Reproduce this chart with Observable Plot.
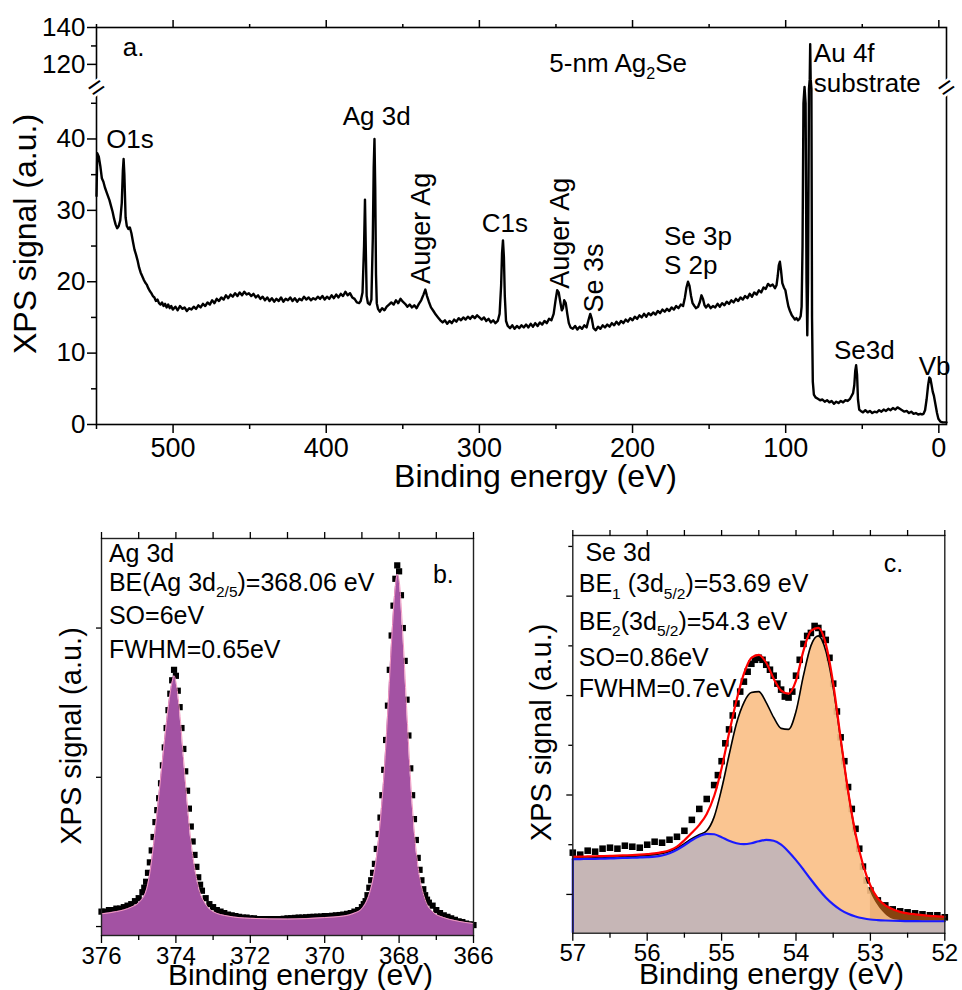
<!DOCTYPE html>
<html>
<head>
<meta charset="utf-8">
<script src="https://cdn.jsdelivr.net/npm/d3@7"></script>
<script src="https://cdn.jsdelivr.net/npm/@observablehq/plot@0.6"></script>
<style>
  body { margin: 0; background: #fff; }
  #wrap { position: relative; width: 962px; height: 990px; background: #fff; }
  #wrap svg { position: absolute; overflow: visible; }
</style>
</head>
<body>
<div id="wrap"></div>
<script>
const FONT = '"Liberation Sans", Arial, Helvetica, sans-serif';

// ================= Panel a: survey spectrum =================
const surveyPoints = [
  [550.0,32.0],[549.5,38.0],[548.5,37.5],[547.5,36.2],[546.5,34.5],[545.5,34.0],[544.5,33.2],[543.5,32.6],
  [542.5,32.0],[541.5,31.4],[540.5,30.6],[539.5,29.8],[538.5,28.8],[537.5,28.0],[536.5,27.5],[535.5,27.8],
  [534.5,28.6],[533.5,31.0],[532.8,35.5],[532.3,37.2],[531.8,35.0],[531.0,29.0],[530.2,27.8],[529.2,27.4],
  [528.2,27.6],[527.2,26.8],[526.2,25.6],[525.2,24.5],[524.2,23.8],[523.2,23.0],[522.2,22.0],[521.2,21.3],
  [520.2,20.8],[519.2,20.3],[518.2,19.9],[517.2,19.6],[516.2,19.1],[515.2,18.7],[514.2,18.4],[513.2,18.0],
  [512.2,17.8],[511.2,17.3],[510.2,17.5],[509.2,17.0],[508.2,16.8],[507.2,17.1],[506.2,16.6],[505.2,16.9],
  [504.2,16.4],[503.2,16.8],[502.2,16.3],[501.2,16.6],[500.2,16.1],[498.5,16.5],[497.0,16.0],[495.5,16.6],
  [494.0,16.2],[492.5,16.4],[491.0,15.9],[489.5,16.3],[488.0,16.1],[486.5,16.5],[485.0,16.2],[483.5,16.7],
  [482.0,16.4],[480.5,16.9],[479.0,16.6],[477.5,17.1],[476.0,16.8],[474.5,17.4],[473.0,17.0],[471.5,17.6],
  [470.0,17.3],[468.5,17.8],[467.0,17.5],[465.5,18.1],[464.0,17.7],[462.5,18.2],[461.0,17.9],[459.5,18.4],
  [458.0,18.0],[456.5,18.5],[455.0,18.1],[453.5,18.6],[452.0,18.2],[450.5,18.4],[449.0,18.0],[447.5,18.3],
  [446.0,17.8],[444.5,18.1],[443.0,17.6],[441.5,17.9],[440.0,17.4],[438.5,17.8],[437.0,17.3],[435.5,17.7],
  [434.0,17.2],[432.5,17.6],[431.0,17.3],[429.5,17.8],[428.0,17.2],[426.5,17.6],[425.0,17.4],[423.5,17.8],
  [422.0,17.3],[420.5,17.7],[419.0,17.2],[417.5,17.6],[416.0,17.4],[414.5,17.9],[413.0,17.5],[411.5,17.8],
  [410.0,17.4],[408.5,17.7],[407.0,17.5],[405.5,17.9],[404.0,17.6],[402.5,18.0],[401.0,17.5],[399.5,17.9],
  [398.0,17.6],[396.5,18.1],[395.0,17.7],[393.5,18.2],[392.0,17.8],[390.5,18.3],[389.0,18.0],[387.5,18.6],
  [386.0,18.1],[384.5,18.4],[383.0,17.8],[381.5,17.6],[380.0,17.1],[378.5,17.0],[377.5,17.3],[376.3,18.5],
  [375.3,25.0],[374.7,31.5],[374.2,25.0],[373.6,18.0],[372.8,17.0],[371.6,16.8],[370.5,17.5],[369.6,26.0],
  [369.0,36.0],[368.5,40.0],[368.0,33.0],[367.5,21.0],[367.0,17.0],[366.2,16.2],[365.0,15.8],[363.5,16.3],
  [362.0,16.0],[360.5,16.5],[359.0,16.8],[357.5,17.1],[356.0,16.8],[354.5,17.4],[353.0,17.0],[351.5,17.6],
  [350.0,17.2],[348.5,16.9],[347.0,16.5],[345.5,16.8],[344.0,16.4],[342.5,16.7],[341.0,16.3],[339.5,16.9],
  [338.0,17.4],[336.5,18.2],[335.3,18.9],[334.2,18.0],[333.0,17.2],[331.6,16.4],[330.0,15.9],[328.5,15.4],
  [327.0,15.0],[325.5,14.6],[324.0,14.3],[322.5,14.6],[321.0,14.1],[319.5,14.5],[318.0,14.2],[316.5,14.7],
  [315.0,14.4],[313.5,14.9],[312.0,14.6],[310.5,15.0],[309.0,14.7],[307.5,15.1],[306.0,14.8],[304.5,15.2],
  [303.0,14.9],[301.5,15.3],[300.0,15.0],[298.5,14.7],[297.0,15.0],[295.5,14.5],[294.0,14.8],[292.5,14.3],
  [291.0,14.6],[289.5,14.2],[288.0,14.5],[286.8,15.5],[285.8,19.5],[285.2,24.0],[284.6,25.8],[284.0,23.5],
  [283.4,18.0],[282.6,14.5],[281.5,13.8],[280.0,13.5],[278.5,13.9],[277.0,13.4],[275.5,13.8],[274.0,13.5],
  [272.5,13.9],[271.0,13.6],[269.5,14.0],[268.0,13.6],[266.5,14.1],[265.0,13.7],[263.5,14.2],[262.0,13.8],
  [260.5,14.3],[259.0,14.0],[257.5,14.5],[256.0,14.2],[254.5,14.8],[253.0,14.6],[251.5,15.5],[250.2,17.5],
  [249.2,18.8],[248.2,18.5],[247.2,17.2],[246.2,16.0],[245.4,16.3],[244.6,17.4],[243.6,17.0],[242.6,15.5],
  [241.6,14.2],[240.5,13.6],[239.0,13.4],[237.5,13.8],[236.0,13.3],[234.5,13.7],[233.0,13.4],[231.5,13.9],
  [230.0,13.6],[228.8,14.6],[227.6,15.5],[226.6,14.8],[225.5,13.5],[224.0,13.2],[222.5,13.7],[221.0,13.4],
  [219.5,13.9],[218.0,13.6],[216.5,14.0],[215.0,13.7],[213.5,14.2],[212.0,13.9],[210.5,14.4],[209.0,14.0],
  [207.5,14.5],[206.0,14.2],[204.5,14.7],[203.0,14.4],[201.5,14.9],[200.0,14.6],[198.5,15.1],[197.0,14.8],
  [195.5,15.3],[194.0,15.0],[192.5,15.5],[191.0,15.1],[189.5,15.6],[188.0,15.3],[186.5,15.7],[185.0,15.4],
  [183.5,15.9],[182.0,15.6],[180.5,16.1],[179.0,15.8],[177.5,16.2],[176.0,15.9],[174.5,16.4],[173.0,16.1],
  [171.5,16.6],[170.0,16.3],[168.5,16.8],[167.0,16.6],[165.8,17.8],[164.8,19.2],[163.8,20.0],[162.8,19.4],
  [161.8,18.0],[160.8,17.0],[159.6,16.6],[158.5,16.3],[157.2,16.5],[156.0,17.2],[155.0,18.1],[154.0,17.6],
  [153.0,16.7],[152.0,16.4],[150.5,16.8],[149.0,16.3],[147.5,16.6],[146.0,16.4],[144.5,16.9],[143.0,16.5],
  [141.5,17.0],[140.0,16.7],[138.5,17.2],[137.0,16.9],[135.5,17.4],[134.0,17.1],[132.5,17.6],[131.0,17.3],
  [129.5,17.8],[128.0,17.5],[126.5,18.0],[125.0,17.7],[123.5,18.3],[122.0,17.9],[120.5,18.5],[119.0,18.2],
  [117.5,18.8],[116.0,18.5],[114.5,19.2],[113.0,19.0],[111.5,19.7],[110.0,19.4],[108.5,19.6],[107.0,19.1],
  [106.0,19.5],[105.2,20.8],[104.5,22.3],[103.8,22.8],[103.0,21.5],[102.2,19.8],[101.2,19.2],[100.2,18.8],
  [99.2,17.6],[98.2,16.5],[97.2,15.9],[96.0,15.3],[95.0,15.0],[94.0,14.7],[93.0,14.9],[92.0,14.6],
  [91.0,14.8],[90.2,15.2],[89.6,16.5],[89.0,25.0],[88.4,45.0],[87.7,100.0],[87.0,45.0],[86.4,20.0],
  [85.9,12.5],[85.4,20.0],[84.8,50.0],[84.3,112.0],[84.0,131.0],[83.7,112.0],[83.2,50.0],[82.8,15.0],
  [82.3,6.0],[81.6,4.2],[80.5,3.8],[79.0,3.6],[77.5,3.4],[76.0,3.5],[74.5,3.2],[73.0,3.4],
  [71.5,3.1],[70.0,3.3],[68.5,2.9],[67.0,3.2],[65.5,3.0],[64.0,3.3],[62.5,3.1],[61.0,3.4],
  [59.5,3.3],[58.0,3.6],[57.0,4.0],[56.0,4.4],[55.2,5.5],[54.6,7.5],[54.0,8.3],[53.4,7.0],
  [52.8,3.5],[52.0,2.1],[51.0,1.9],[49.5,1.7],[48.0,2.0],[46.5,1.7],[45.0,1.9],[43.5,1.6],
  [42.0,1.8],[40.5,1.7],[39.0,2.0],[37.5,1.8],[36.0,2.1],[34.5,1.9],[33.0,2.2],[31.5,2.0],
  [30.0,2.3],[28.5,2.1],[27.0,2.4],[25.5,2.2],[24.0,2.0],[22.5,1.8],[21.0,1.9],[19.5,1.6],
  [18.0,1.8],[16.5,1.5],[15.0,1.6],[13.5,1.4],[12.0,1.5],[11.0,1.4],[10.0,1.5],[9.0,2.0],
  [8.0,3.5],[7.0,5.5],[6.2,6.6],[5.5,6.4],[4.8,5.6],[4.0,4.6],[3.2,4.0],[2.2,2.8],
  [1.2,1.6],[0.3,0.8],[-1.0,0.4],[-2.5,0.3],[-4.0,0.3],[-5.0,0.3]
];
const surveyXDomain = [550, -5];
// broken y axis: signal breakpoints and the display height (px above the x axis) each maps to
const surveyYBreaks = [0, 47, 108, 140];
const surveyYDisplay = [0, 335.5, 338, 397];
const surveyXTicks = [500, 400, 300, 200, 100, 0];
const surveyXMinor = [550, 450, 350, 250, 150, 50];
const surveyYTicks = [0, 10, 20, 30, 40, 120, 140];
const surveyYMinor = [5, 15, 25, 35, 45, 130];
const surveyBreak = 77.5;
const surveyLabels = [
  {be: 532.8, s: 124.8, text: "a."},
  {be: 543.7, s: 38.8, text: "O1s"},
  {be: 389.2, s: 42.0, text: "Ag 3d"},
  {be: 298.5, s: 26.9, text: "C1s"},
  {be: 179.5, s: 25.1, text: "Se 3p"},
  {be: 179.5, s: 21.1, text: "S 2p"},
  {be: 81.6, s: 121.2, text: "Au 4f"},
  {be: 81.6, s: 46.6, text: "substrate"},
  {be: 68.5, s: 9.2, text: "Se3d"},
  {be: 13.1, s: 6.9, text: "Vb"},
  {be: 254.3, s: 115.8, text: "5-nm Ag_{2}Se"}
];
const surveyVLabels = [
  {be: 337.6, s: 19.7, text: "Auger Ag"},
  {be: 247.4, s: 19.0, text: "Auger Ag"},
  {be: 225.0, s: 15.7, text: "Se 3s"}
];

// ================= Panel b: Ag 3d =================
const agData = [
  [376.0,0.10],[375.9,0.10],[375.8,0.11],[375.7,0.11],[375.6,0.12],[375.5,0.12],[375.4,0.13],[375.3,0.14],
  [375.2,0.15],[375.1,0.17],[375.0,0.19],[374.9,0.23],[374.85,0.26],[374.80,0.30],[374.75,0.36],[374.70,0.43],
  [374.65,0.51],[374.60,0.60],[374.55,0.70],[374.50,0.78],[374.45,0.86],[374.40,0.96],[374.35,1.08],[374.30,1.20],
  [374.25,1.33],[374.20,1.45],[374.15,1.56],[374.10,1.65],[374.05,1.72],[374.00,1.68],[373.95,1.58],[373.90,1.47],
  [373.85,1.33],[373.80,1.19],[373.75,1.04],[373.70,0.91],[373.65,0.79],[373.60,0.67],[373.55,0.57],[373.50,0.48],
  [373.45,0.40],[373.40,0.33],[373.35,0.28],[373.30,0.24],[373.2,0.19],[373.1,0.15],[373.0,0.13],[372.9,0.11],
  [372.8,0.10],[372.7,0.09],[372.6,0.08],[372.5,0.075],[372.4,0.07],[372.3,0.065],[372.2,0.06],[372.1,0.06],
  [372.0,0.055],[371.9,0.055],[371.8,0.05],[371.7,0.05],[371.6,0.05],[371.5,0.05],[371.4,0.05],[371.3,0.05],
  [371.2,0.05],[371.1,0.052],[371.0,0.055],[370.9,0.056],[370.8,0.058],[370.7,0.06],[370.6,0.06],[370.5,0.062],
  [370.4,0.064],[370.3,0.065],[370.2,0.066],[370.1,0.067],[370.0,0.07],[369.9,0.07],[369.8,0.072],[369.7,0.075],
  [369.6,0.077],[369.5,0.08],[369.4,0.085],[369.3,0.09],[369.2,0.10],[369.1,0.11],[369.0,0.13],[368.95,0.15],
  [368.90,0.17],[368.85,0.21],[368.80,0.26],[368.75,0.31],[368.70,0.36],[368.65,0.42],[368.60,0.52],[368.55,0.62],
  [368.50,0.73],[368.45,0.88],[368.40,1.05],[368.35,1.25],[368.30,1.48],[368.25,1.72],[368.20,1.95],[368.15,2.15],
  [368.10,2.33],[368.05,2.42],[368.00,2.38],[367.95,2.22],[367.90,2.00],[367.85,1.78],[367.80,1.52],[367.75,1.28],
  [367.70,1.06],[367.65,0.88],[367.60,0.72],[367.55,0.58],[367.50,0.46],[367.45,0.38],[367.40,0.31],[367.35,0.25],
  [367.30,0.21],[367.25,0.18],[367.2,0.16],[367.1,0.14],[367.0,0.11],[366.9,0.09],[366.8,0.075],[366.7,0.065],
  [366.6,0.055],[366.5,0.045],[366.4,0.035],[366.3,0.03],[366.2,0.02],[366.1,0.015],[366.0,0.01]
];
const agFit = [
  [376.0,0.085],[375.6,0.10],[375.2,0.13],[375.0,0.16],[374.8,0.24],[374.7,0.36],[374.6,0.55],[374.5,0.78],
  [374.4,1.02],[374.3,1.26],[374.2,1.48],[374.1,1.64],[374.05,1.68],[374.0,1.64],[373.9,1.44],[373.8,1.14],
  [373.7,0.84],[373.6,0.58],[373.5,0.40],[373.4,0.27],[373.2,0.15],[373.0,0.10],[372.6,0.07],[372.0,0.055],
  [371.0,0.05],[370.0,0.06],[369.5,0.07],[369.2,0.09],[369.0,0.12],[368.8,0.22],[368.7,0.32],[368.6,0.48],
  [368.5,0.72],[368.4,1.04],[368.3,1.46],[368.2,1.92],[368.1,2.28],[368.05,2.36],[368.0,2.32],[367.9,1.96],
  [367.8,1.48],[367.7,1.02],[367.6,0.66],[367.5,0.42],[367.4,0.27],[367.3,0.18],[367.1,0.10],[366.8,0.06],
  [366.5,0.04],[366.0,0.02]
];
const agXDomain = [376, 366];
const agYDomain = [-0.06, 2.6];
const agXTicks = [376, 374, 372, 370, 368, 366];
const agXMinor = [375, 373, 371, 369, 367];
const agXTop = [376, 375, 374, 373, 372, 371, 370, 369, 368, 367, 366];
const agYTicks = [0, 1, 2];
const agLabels = [
  {be: 375.8, s: 2.44, text: "Ag 3d"},
  {be: 375.8, s: 2.25, text: "BE(Ag 3d_{2/5})=368.06 eV"},
  {be: 375.8, s: 2.03, text: "SO=6eV"},
  {be: 375.8, s: 1.80, text: "FWHM=0.65eV"},
  {be: 367.09, s: 2.30, text: "b."}
];

// ================= Panel c: Se 3d =================
const seBE = [57.0,56.9,56.8,56.7,56.6,56.5,56.4,56.3,56.2,56.1,56.0,55.9,55.8,55.7,55.6,55.5,55.4,55.3,55.2,55.1,
  55.0,54.9,54.8,54.7,54.6,54.5,54.4,54.3,54.2,54.1,54.0,53.9,53.8,53.7,53.6,53.5,53.4,53.3,53.2,53.1,
  53.0,52.9,52.8,52.7,52.6,52.5,52.4,52.3,52.2,52.1,52.0];
const seBackground = [0.355,0.356,0.357,0.358,0.360,0.362,0.365,0.367,0.369,0.372,0.375,0.380,0.392,0.415,0.450,0.495,0.545,0.585,0.610,0.605,
  0.575,0.540,0.515,0.505,0.515,0.535,0.548,0.540,0.500,0.430,0.345,0.250,0.150,0.055,-0.030,-0.100,-0.155,-0.195,-0.222,-0.240,
  -0.252,-0.258,-0.262,-0.265,-0.267,-0.268,-0.269,-0.270,-0.270,-0.270,-0.270];
const seComponents = [0.365,0.366,0.367,0.369,0.371,0.374,0.377,0.380,0.384,0.388,0.393,0.400,0.412,0.432,0.465,0.510,0.560,0.600,0.640,0.780,
  1.060,1.400,1.720,1.930,2.030,2.040,1.930,1.780,1.670,1.660,1.840,2.200,2.500,2.600,2.450,2.080,1.560,1.040,0.600,0.260,
  0.030,-0.110,-0.200,-0.250,-0.262,-0.266,-0.268,-0.269,-0.270,-0.270,-0.270];
const seEnvelope = [0.379,0.380,0.382,0.384,0.386,0.388,0.390,0.393,0.396,0.400,0.405,0.412,0.425,0.445,0.480,0.545,0.620,0.700,0.810,0.990,
  1.270,1.620,1.950,2.220,2.380,2.410,2.330,2.170,2.050,2.020,2.150,2.450,2.650,2.680,2.520,2.120,1.570,1.040,0.610,0.300,
  0.090,-0.040,-0.110,-0.150,-0.175,-0.190,-0.200,-0.208,-0.215,-0.220,-0.225];
const seData = [
  [57.0,0.42],[56.9,0.40],[56.8,0.44],[56.7,0.43],[56.6,0.46],[56.5,0.47],[56.4,0.46],[56.3,0.49],[56.2,0.48],
  [56.1,0.47],[56.0,0.50],[55.9,0.53],[55.8,0.52],[55.7,0.55],[55.6,0.58],[55.5,0.64],[55.4,0.75],[55.3,0.86],
  [55.2,0.96],[55.1,1.10],[55.05,1.20],[55.0,1.34],[54.95,1.52],[54.9,1.66],[54.85,1.80],[54.8,1.92],[54.75,2.04],
  [54.7,2.14],[54.65,2.24],[54.6,2.32],[54.55,2.36],[54.5,2.38],[54.45,2.36],[54.4,2.31],[54.35,2.26],[54.3,2.20],
  [54.25,2.12],[54.2,2.06],[54.15,1.99],[54.1,1.98],[54.05,2.04],[54.0,2.20],[53.95,2.36],[53.9,2.52],[53.85,2.60],
  [53.8,2.63],[53.75,2.70],[53.7,2.68],[53.65,2.62],[53.6,2.56],[53.55,2.38],[53.5,2.12],[53.45,1.84],[53.4,1.58],
  [53.35,1.34],[53.3,1.08],[53.25,0.86],[53.2,0.66],[53.15,0.46],[53.1,0.28],[53.05,0.14],[53.0,0.04],[52.9,-0.06],
  [52.8,-0.11],[52.7,-0.15],[52.6,-0.17],[52.5,-0.18],[52.4,-0.19],[52.3,-0.20],[52.2,-0.21],[52.1,-0.21],[52.0,-0.23]
];
const seXDomain = [57, 52];
const seYDomain = [-0.39, 3.61];
const seXTicks = [57, 56, 55, 54, 53, 52];
const seXMinor = [56.5, 55.5, 54.5, 53.5, 52.5];
const seYTicks = [0, 1, 2, 3];
const seYMinor = [0.5, 1.5, 2.5, 3.5];
const seBrownLimit = 53.0;
const seBlackLineLimit = 53.2;
const seLabels = [
  {be: 56.83, s: 3.35, text: "Se 3d"},
  {be: 56.92, s: 3.04, text: "BE_{1} (3d_{5/2})=53.69 eV"},
  {be: 56.92, s: 2.66, text: "BE_{2}(3d_{5/2})=54.3 eV"},
  {be: 56.92, s: 2.30, text: "SO=0.86eV"},
  {be: 56.92, s: 1.99, text: "FWHM=0.7eV"},
  {be: 52.82, s: 3.24, text: "c."}
];

// ================= helpers =================
const blank = () => "";
const plain = d => String(d);
function subscripts(svg) {
  svg.querySelectorAll("text").forEach(t => {
    const s = t.textContent;
    if (!s.includes("_{")) return;
    const fs = parseFloat(t.getAttribute("font-size") || getComputedStyle(t).fontSize) || 25;
    const shift = fs * 0.26;
    const parts = s.split(/(_\{[^}]*\})/).filter(p => p.length);
    t.textContent = "";
    let lowered = false;
    for (const p of parts) {
      const ts = document.createElementNS("http://www.w3.org/2000/svg", "tspan");
      if (p.startsWith("_{")) {
        ts.textContent = p.slice(2, -1);
        ts.setAttribute("font-size", (fs * 0.62).toFixed(1));
        if (!lowered) ts.setAttribute("dy", shift.toFixed(1));
        lowered = true;
      } else {
        ts.textContent = p;
        if (lowered) ts.setAttribute("dy", (-shift).toFixed(1));
        lowered = false;
      }
      t.appendChild(ts);
    }
  });
}
const baseStyle = {fontFamily: FONT, color: "black", background: "transparent", overflow: "visible"};

// piecewise mapping of the broken survey axis (signal -> display height)
const brk = d3.scaleLinear().domain(surveyYBreaks).range(surveyYDisplay);
const brkLabel = d => String(Math.round(brk.invert(d)));

// ================= Panel a plot =================
const svgA = Plot.plot({
  width: 962, height: 500,
  marginLeft: 96, marginRight: 16, marginTop: 27, marginBottom: 76,
  style: baseStyle,
  x: {domain: surveyXDomain},
  y: {domain: [surveyYDisplay[0], surveyYDisplay[surveyYDisplay.length - 1]]},
  marks: [
    Plot.line(surveyPoints, {x: d => d[0], y: d => brk(d[1]), stroke: "black", strokeWidth: 2.4}),
    Plot.frame({stroke: "black", strokeWidth: 1.6}),
    Plot.axisX({ticks: surveyXTicks, tickSize: 9, tickPadding: 4, fontSize: 27, strokeWidth: 1.5, label: null, tickFormat: plain}),
    Plot.axisX({ticks: surveyXMinor, tickSize: 5, tickFormat: blank, strokeWidth: 1.5, label: null}),
    Plot.axisX({anchor: "top", ticks: surveyXTicks, tickSize: 8, tickFormat: blank, strokeWidth: 1.5, label: null}),
    Plot.axisX({anchor: "top", ticks: surveyXMinor, tickSize: 4, tickFormat: blank, strokeWidth: 1.5, label: null}),
    Plot.axisY({ticks: surveyYTicks.map(brk), tickSize: 9, tickPadding: 2, fontSize: 26, strokeWidth: 1.5, label: null, tickFormat: brkLabel}),
    Plot.axisY({ticks: surveyYMinor.map(brk), tickSize: 5, tickFormat: blank, strokeWidth: 1.5, label: null}),
    Plot.text(surveyXDomain, {x: d => d, y: brk(surveyBreak), text: () => "=", rotate: -35, fontSize: 28,
      textAnchor: "middle", lineAnchor: "middle",
      fill: "black", stroke: "white", strokeWidth: 5, paintOrder: "stroke"}),
    Plot.text(surveyLabels, {x: "be", y: d => brk(d.s), text: "text", textAnchor: "start", lineAnchor: "bottom", fontSize: 26}),
    Plot.text(surveyVLabels, {x: "be", y: d => brk(d.s), text: "text", rotate: -90, textAnchor: "start", lineAnchor: "middle", fontSize: 27}),
    Plot.text(["Binding energy (eV)"], {frameAnchor: "bottom", textAnchor: "middle", dx: 14, dy: 62, lineAnchor: "bottom", fontSize: 32}),
    Plot.text(["XPS signal (a.u.)"], {frameAnchor: "left", textAnchor: "middle", lineAnchor: "middle", rotate: -90, dx: -71, dy: 8, fontSize: 32})
  ]
});

// ================= Panel b plot =================
const svgB = Plot.plot({
  width: 481, height: 490,
  marginLeft: 101, marginRight: 8, marginTop: 38, marginBottom: 55,
  style: baseStyle,
  x: {domain: agXDomain},
  y: {domain: agYDomain},
  marks: [
    Plot.dot(agData, {x: d => d[0], y: d => d[1], symbol: "square", r: 3.5, fill: "black", stroke: null}),
    Plot.areaY(agFit, {x: d => d[0], y1: agYDomain[0], y2: d => d[1], fill: "#a352a3", curve: "monotone-x"}),
    Plot.line(agFit, {x: d => d[0], y: d => d[1], stroke: "#f39bc2", strokeWidth: 1, curve: "monotone-x"}),
    Plot.frame({stroke: "#222", strokeWidth: 1.4}),
    Plot.axisX({ticks: agXTicks, tickSize: 8, tickPadding: 3, fontSize: 24, strokeWidth: 1.3, label: null, tickFormat: plain}),
    Plot.axisX({ticks: agXMinor, tickSize: 5, tickFormat: blank, strokeWidth: 1.3, label: null}),
    Plot.axisX({anchor: "top", ticks: agXTop, tickSize: 7, tickFormat: blank, strokeWidth: 1.3, label: null}),
    Plot.axisY({ticks: agYTicks, tickSize: 5, tickFormat: blank, strokeWidth: 1.3, label: null}),
    Plot.text(agLabels, {x: "be", y: "s", text: "text", textAnchor: "start", lineAnchor: "bottom", fontSize: 25}),
    Plot.text(["Binding energy (eV)"], {frameAnchor: "bottom", textAnchor: "middle", dx: 13, dy: 49, lineAnchor: "bottom", fontSize: 30}),
    Plot.text(["XPS signal (a.u.)"], {frameAnchor: "left", textAnchor: "middle", lineAnchor: "middle", rotate: -90, dx: -29.7, dy: -1, fontSize: 29})
  ]
});

// ================= Panel c plot =================
const seIdx = seBE.map((_, i) => i);
const seBrownIdx = seIdx.filter(i => seBE[i] <= seBrownLimit);
const seBlackIdx = seIdx.filter(i => seBE[i] >= seBlackLineLimit);
const svgC = Plot.plot({
  width: 481, height: 490,
  marginLeft: 91.3, marginRight: 17.7, marginTop: 35, marginBottom: 57.3,
  style: baseStyle,
  x: {domain: seXDomain},
  y: {domain: seYDomain},
  marks: [
    Plot.dot(seData, {x: d => d[0], y: d => d[1], symbol: "square", r: 3.7, fill: "black", stroke: null}),
    Plot.areaY(seIdx, {x: i => seBE[i], y1: seYDomain[0], y2: i => seBackground[i], fill: "#c6b6b6", curve: "monotone-x"}),
    Plot.areaY(seBrownIdx, {x: i => seBE[i], y1: i => seBackground[i], y2: i => seEnvelope[i], fill: "#87430f", curve: "monotone-x"}),
    Plot.areaY(seIdx, {x: i => seBE[i], y1: i => seBackground[i], y2: i => seComponents[i], fill: "#f9bf85", fillOpacity: 0.9, curve: "monotone-x"}),
    Plot.line(seBlackIdx, {x: i => seBE[i], y: i => seComponents[i], stroke: "black", strokeWidth: 1.6, curve: "monotone-x"}),
    Plot.ruleX([0], {x: () => seBE[0], y1: seYDomain[0], y2: () => seBackground[0], stroke: "#1a1aff", strokeWidth: 2.2}),
    Plot.line(seIdx, {x: i => seBE[i], y: i => seBackground[i], stroke: "#1a1aff", strokeWidth: 2.2, curve: "monotone-x"}),
    Plot.line(seIdx, {x: i => seBE[i], y: i => seEnvelope[i], stroke: "#ff0000", strokeWidth: 2.2, curve: "monotone-x"}),
    Plot.frame({stroke: "#222", strokeWidth: 1.4}),
    Plot.axisX({ticks: seXTicks, tickSize: 8, tickPadding: 3, fontSize: 24, strokeWidth: 1.3, label: null, tickFormat: plain}),
    Plot.axisX({ticks: seXMinor, tickSize: 5, tickFormat: blank, strokeWidth: 1.3, label: null}),
    Plot.axisX({anchor: "top", ticks: seXTicks.concat(seXMinor), tickSize: 6, tickFormat: blank, strokeWidth: 1.3, label: null}),
    Plot.axisY({ticks: seYTicks, tickSize: 6, tickFormat: blank, strokeWidth: 1.3, label: null}),
    Plot.axisY({ticks: seYMinor, tickSize: 4, tickFormat: blank, strokeWidth: 1.3, label: null}),
    Plot.text(seLabels, {x: "be", y: "s", text: "text", textAnchor: "start", lineAnchor: "bottom", fontSize: 25}),
    Plot.text(["Binding energy (eV)"], {frameAnchor: "bottom", textAnchor: "middle", dx: 12.7, dy: 51, lineAnchor: "bottom", fontSize: 30}),
    Plot.text(["XPS signal (a.u.)"], {frameAnchor: "left", textAnchor: "middle", lineAnchor: "middle", rotate: -90, dx: -31.3, dy: -2, fontSize: 29})
  ]
});

const wrap = document.getElementById("wrap");
[[svgA, 0, 0], [svgB, 0, 500], [svgC, 481, 500]].forEach(([svg, left, top]) => {
  svg.style.left = left + "px";
  svg.style.top = top + "px";
  wrap.appendChild(svg);
  subscripts(svg);
});
</script>
</body>
</html>
